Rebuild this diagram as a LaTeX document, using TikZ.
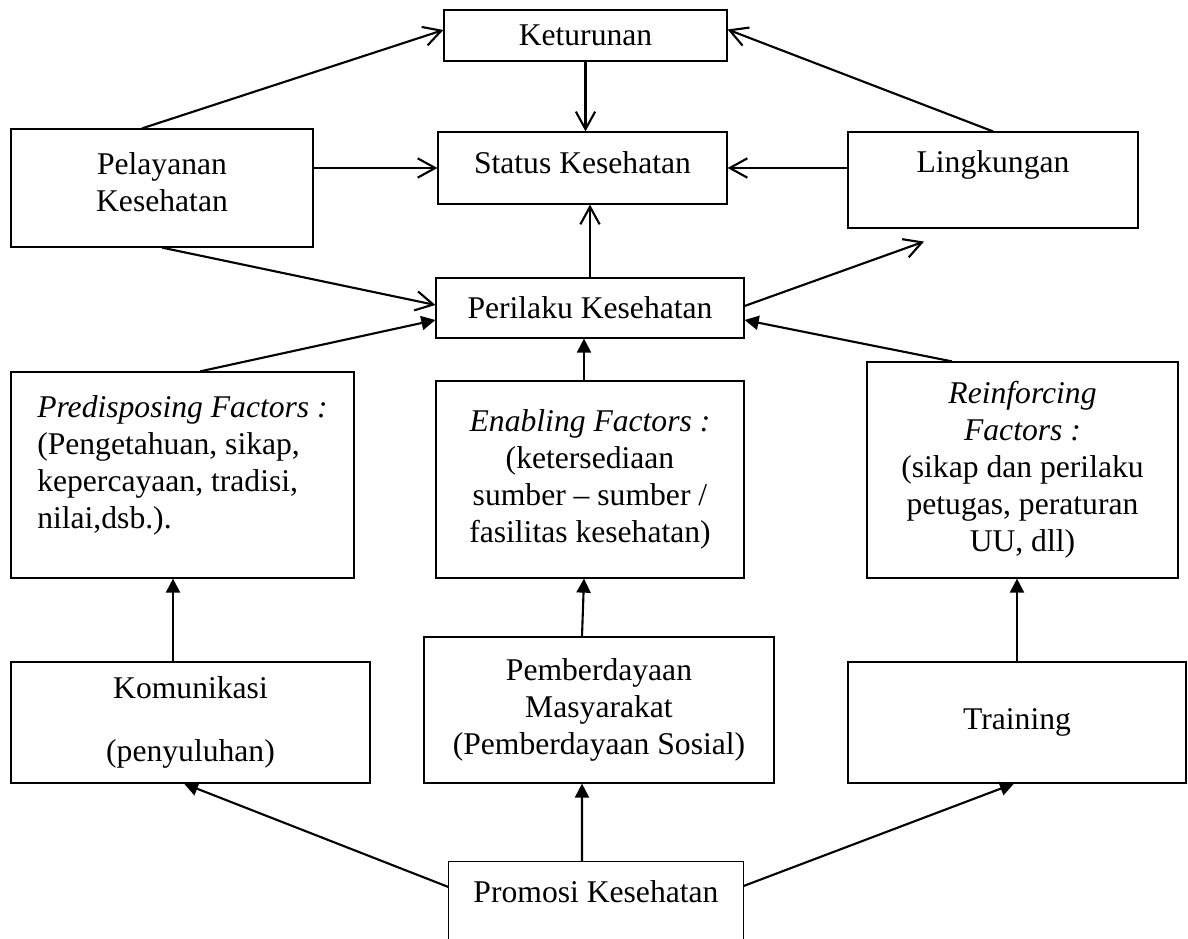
\documentclass[tikz,border=0pt]{standalone}
\usepackage{fontspec}
\setmainfont{Liberation Serif}
\usetikzlibrary{positioning, arrows.meta}

\tikzset{
  kotak/.style={draw, line width=0.7pt, align=center, inner sep=2pt,
                font=\fontsize{18pt}{21pt}\selectfont},
  panah/.style={line width=1.2pt, -{Straight Barb[length=10pt,width=11pt]}},
  panahisi/.style={line width=1.2pt, -{Triangle[length=8pt,width=8pt]}}
}

\begin{document}
\begin{tikzpicture}[x=0.02cm, y=-0.02cm]
\useasboundingbox (0,0) rectangle (1188,939);

% baris atas
\node[kotak, minimum width=5.66cm, minimum height=1.02cm] (keturunan) at (585.5,35.5) {Keturunan};
\node[kotak, minimum width=5.78cm, minimum height=1.44cm] (status) at (582.5,168) {Status Kesehatan\\[-15pt]\mbox{}};
\node[kotak, minimum width=6.04cm, minimum height=2.36cm] (pelayanan) at (162,188) {Pelayanan\\Kesehatan\\[-14pt]\mbox{}};
\node[kotak, minimum width=5.8cm, minimum height=1.92cm] (lingkungan) at (993,180) {Lingkungan\\~};
\node[kotak, minimum width=6.16cm, minimum height=1.2cm] (perilaku) at (590,308) {Perilaku Kesehatan};

% faktor
\node[kotak, align=left, minimum width=6.86cm, minimum height=4.12cm] (predisposing) at (182.5,475)
  {\textit{Predisposing Factors :}\\(Pengetahuan, sikap,\\kepercayaan, tradisi,\\nilai,dsb.).\\[-6pt]\mbox{}};
\node[kotak, minimum width=6.16cm, minimum height=3.94cm] (enabling) at (590,479.5)
  {\textit{Enabling Factors :}\\(ketersediaan\\sumber -- sumber /\\fasilitas kesehatan)};
\node[kotak, minimum width=6.22cm, minimum height=4.32cm] (reinforcing) at (1022.5,470)
  {\textit{Reinforcing}\\\textit{Factors :}\\(sikap dan perilaku\\petugas, peraturan\\UU, dll)};

% strategi
\node[kotak, minimum width=7.18cm, minimum height=2.42cm] (komunikasi) at (190.5,722.5) {Komunikasi\\[15pt](penyuluhan)};
\node[kotak, minimum width=7cm, minimum height=2.92cm] (pemberdayaan) at (599,710) {Pemberdayaan\\Masyarakat\\(Pemberdayaan Sosial)};
\node[kotak, minimum width=6.76cm, minimum height=2.42cm] (training) at (1017,722.5) {Training};

\node[kotak, draw=none, minimum width=5.88cm, minimum height=1.2cm] (promosi) at (596,892) {Promosi Kesehatan};
\draw[line width=0.7pt] ([yshift=-1cm]promosi.south west) -- (promosi.north west)
  -- (promosi.north east) -- ([yshift=-1cm]promosi.south east);

\coordinate (lingtip) at ([xshift=-1.38cm,yshift=-0.26cm]lingkungan.south);

% panah terbuka
\draw[panah] (keturunan) -- (keturunan |- status.north);
\draw[panah] (pelayanan.east |- status.west) -- (status.west);
\draw[panah] (lingkungan.west |- status.east) -- (status.east);
\draw[panah] (perilaku.north) -- (perilaku.north |- status.south);
\draw[panah] ([xshift=-0.4cm]pelayanan.north) -- ([yshift=0.11cm]keturunan.west);
\draw[panah] (lingkungan.north) -- ([yshift=0.12cm]keturunan.east);
\draw[panah] (pelayanan.south) -- ([yshift=0.06cm]perilaku.west);
\draw[panah] ([yshift=0.04cm]perilaku.east) -- (lingtip);

% panah isi
\draw[panahisi] ([xshift=0.35cm]predisposing.north) -- ([yshift=-0.24cm]perilaku.west);
\draw[panahisi] ([xshift=-0.12cm]enabling.north) -- ([xshift=-0.12cm]perilaku.south);
\draw[panahisi] ([xshift=-1.41cm]reinforcing.north) -- ([yshift=-0.24cm]perilaku.east);
\draw[panahisi] ([xshift=-0.35cm]komunikasi.north) -- ([xshift=-0.35cm]komunikasi.north |- predisposing.south);
\draw[panahisi] ([xshift=-0.34cm]pemberdayaan.north) -- ([xshift=-0.12cm]enabling.south);
\draw[panahisi] (training.north) -- (training.north |- reinforcing.south);
\draw[panahisi] ([yshift=0.1cm]promosi.west) -- ([xshift=-0.13cm]komunikasi.south);
\draw[panahisi] ([xshift=-0.28cm]promosi.north) -- ([xshift=-0.34cm]pemberdayaan.south);
\draw[panahisi] ([yshift=0.12cm]promosi.east) -- ([xshift=-0.06cm]training.south);
\end{tikzpicture}
\end{document}
